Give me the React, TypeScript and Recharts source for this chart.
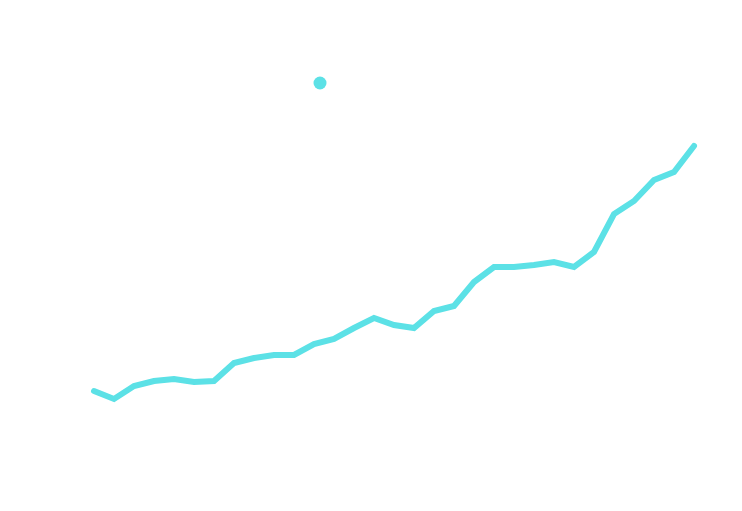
import { ComposedChart, Line, Scatter, XAxis, YAxis } from "recharts";

// index along the x axis, one per period
const periods = [
  0, 1, 2, 3, 4, 5, 6, 7, 8, 9, 10, 11, 12, 13, 14, 15,
  16, 17, 18, 19, 20, 21, 22, 23, 24, 25, 26, 27, 28, 29, 30,
];

// series values
const values = [
  60, 52, 65, 70, 72, 69, 70, 88, 93, 96, 96, 107, 112, 123, 133, 126,
  123, 140, 145, 169, 184, 184, 186, 189, 184, 199, 237, 250, 271, 279, 305,
];

// the lone marker above the line
const markerX = [11.3];
const markerY = [368];

const COLOR = "#5ce1e6";

const lineData = periods.map((p, i) => ({ x: p, y: values[i] }));
const markerData = markerX.map((x, i) => ({ x, y: markerY[i] }));

export default function App() {
  return (
    <div style={{ margin: -8, width: 742, height: 511, background: "#fff" }}>
      <ComposedChart
        width={742}
        height={511}
        margin={{ top: 51, right: 48, bottom: 60, left: 94 }}
      >
        <XAxis dataKey="x" type="number" domain={[0, 30]} hide />
        <YAxis type="number" domain={[0, 400]} hide />
        <Line
          data={lineData}
          dataKey="y"
          type="linear"
          stroke={COLOR}
          strokeWidth={6}
          strokeLinecap="round"
          strokeLinejoin="miter"
          dot={false}
          activeDot={false}
          isAnimationActive={false}
        />
        <Scatter
          data={markerData}
          dataKey="y"
          fill={COLOR}
          shape={(p: any) => <circle cx={p.cx} cy={p.cy} r={6.5} fill={COLOR} />}
          isAnimationActive={false}
        />
      </ComposedChart>
    </div>
  );
}
